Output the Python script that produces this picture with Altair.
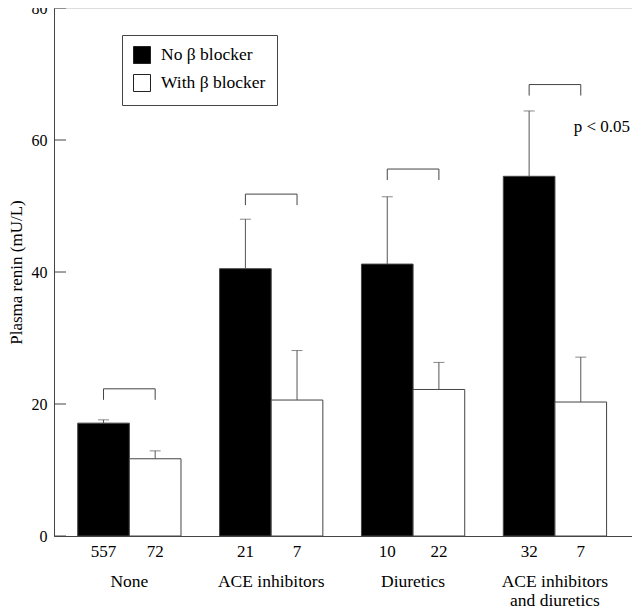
import altair as alt
import pandas as pd

groups = ["None", "ACE inhibitors", "Diuretics", "ACE inhibitors and diuretics"]
series = ["No β blocker", "With β blocker"]
no_bb_mean = [17.1, 40.5, 41.2, 54.5]
no_bb_upper = [17.6, 48.0, 51.4, 64.4]
with_bb_mean = [11.7, 20.6, 22.2, 20.3]
with_bb_upper = [12.9, 28.1, 26.3, 27.1]
no_bb_n = ["557", "21", "10", "32"]
with_bb_n = ["72", "7", "22", "7"]
bracket = [22.3, 51.8, 55.6, 68.4]
p_text = ["", "", "", "p < 0.05"]
y_ticks = [0, 20, 40, 60, 80]

rows = []
for i, g in enumerate(groups):
    rows.append(dict(group=g, series=series[0], mean=no_bb_mean[i], upper=no_bb_upper[i], n=no_bb_n[i], bracket=bracket[i]))
    rows.append(dict(group=g, series=series[1], mean=with_bb_mean[i], upper=with_bb_upper[i], n=with_bb_n[i], bracket=bracket[i]))
bars_df = pd.DataFrame(rows)
br_df = pd.DataFrame(dict(group=groups, bracket=bracket, p=p_text))
p_df = br_df[br_df["p"] != ""]
tick_df = pd.DataFrame(dict(v=y_ticks))

FONT = "Liberation Serif"
LINE = "#444"
W, H = 578, 528

x_scale = alt.Scale(domain=groups, paddingInner=0.272, paddingOuter=0.1731, align=0.4827)
xo_scale = alt.Scale(domain=series, paddingInner=0, paddingOuter=0)
y_scale = alt.Scale(domain=[0, 80], nice=False, zero=True)

xa = alt.Axis(
    title=None, ticks=False, tickSize=0, labelPadding=36, labelFontSize=17.5,
    labelLineHeight=19, labelAngle=0, labelLimit=0, labelColor="black",
    labelFont=FONT, domainColor=LINE, grid=False,
    labelExpr="datum.label == 'ACE inhibitors and diuretics' ? ['ACE inhibitors', 'and diuretics'] : datum.label",
)
ya = alt.Axis(
    title="Plasma renin (mU/L)", values=y_ticks, ticks=False, tickSize=0,
    labelPadding=7, labelFontSize=16, labelFont=FONT, labelColor="black",
    titleFont=FONT, titleFontSize=17, titleFontWeight="normal", titleColor="black",
    titleX=-33, titleBaseline="alphabetic", domainColor=LINE, grid=False,
)

X = alt.X("group:N", scale=x_scale, axis=xa)
XO = alt.XOffset("series:N", scale=xo_scale)

bars = alt.Chart(bars_df).mark_bar(stroke=LINE, strokeWidth=1).encode(
    x=X, xOffset=XO,
    y=alt.Y("mean:Q", scale=y_scale, axis=ya),
    color=alt.Color(
        "series:N",
        scale=alt.Scale(domain=series, range=["#000000", "#ffffff"]),
        legend=alt.Legend(
            title=None, orient="none", legendX=68, legendY=27,
            symbolType="square", symbolSize=289, symbolStrokeColor="#222",
            symbolStrokeWidth=1, labelFontSize=17.5, labelFont=FONT,
            labelColor="black", padding=11, strokeColor=LINE,
            fillColor="white", rowPadding=6, labelOffset=10,
        ),
    ),
)

err = alt.Chart(bars_df).mark_rule(color="#555", strokeWidth=1).encode(
    x=X, xOffset=XO,
    y=alt.Y("mean:Q", scale=y_scale, axis=ya),
    y2="upper:Q",
)

caps = alt.Chart(bars_df).mark_tick(color="#555", size=11, thickness=1, orient="horizontal").encode(
    x=X, xOffset=XO,
    y=alt.Y("upper:Q", scale=y_scale, axis=ya),
)

legs = alt.Chart(bars_df).mark_rule(color=LINE, strokeWidth=1, y2Offset=11).encode(
    x=X, xOffset=XO,
    y=alt.Y("bracket:Q", scale=y_scale, axis=ya),
    y2="bracket:Q",
)

hbr = alt.Chart(br_df).mark_rule(color=LINE, strokeWidth=1).encode(
    x=alt.X("group:N", scale=x_scale, axis=xa, bandPosition=0.25),
    x2=alt.X2("group:N", bandPosition=0.75),
    y=alt.Y("bracket:Q", scale=y_scale, axis=ya),
)

counts = alt.Chart(bars_df).mark_text(fontSize=17, font=FONT, baseline="middle", color="black").encode(
    x=X, xOffset=XO,
    y=alt.value(H + 16),
    text="n:N",
)

ptxt = alt.Chart(p_df).mark_text(fontSize=17, font=FONT, align="left", baseline="alphabetic",
                                 dx=-7, dy=47, color="black").encode(
    x=alt.X("group:N", scale=x_scale, axis=xa, bandPosition=0.75),
    y=alt.Y("bracket:Q", scale=y_scale, axis=ya),
    text="p:N",
)

yticks = alt.Chart(tick_df).mark_rule(color=LINE, strokeWidth=1).encode(
    y=alt.Y("v:Q", scale=y_scale, axis=ya),
    x=alt.value(0), x2=alt.value(12),
)

chart = alt.layer(bars, err, caps, legs, hbr, counts, ptxt, yticks).properties(
    width=W, height=H,
    autosize=alt.AutoSizeParams(type="none"),
    padding={"left": 46, "top": 0, "right": 0, "bottom": 78},
).configure_view(stroke=None).configure(font=FONT)

chart.save("out.html", embed_options={"renderer": "svg", "actions": False})
